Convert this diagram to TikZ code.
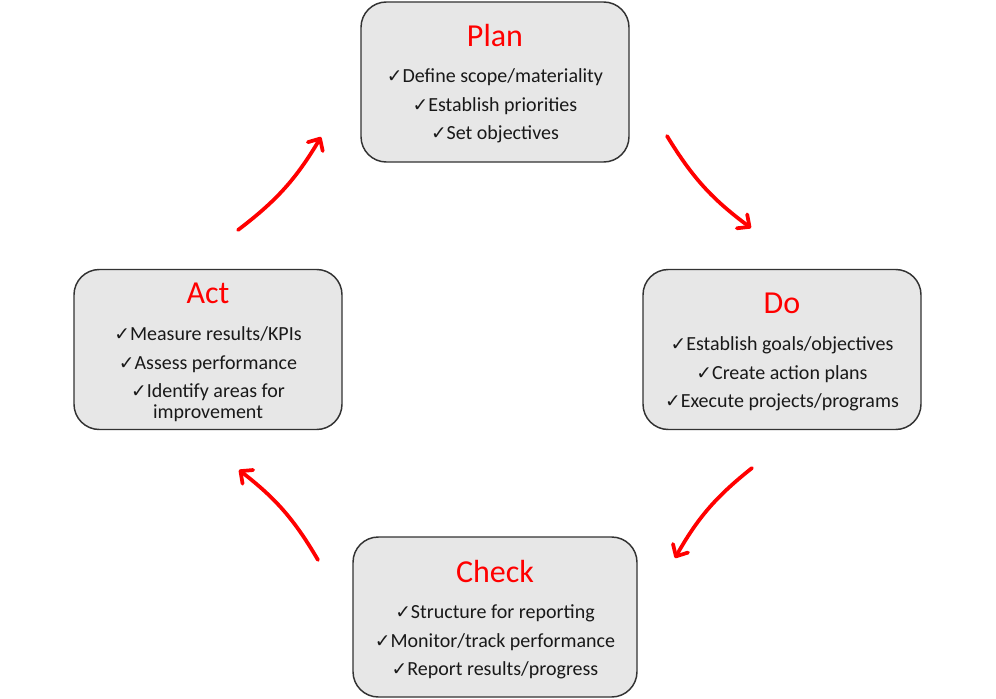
\documentclass[tikz,border=0pt]{standalone}
\usepackage{fontspec}
\setmainfont{Carlito}
\newfontfamily\symfont{DejaVu Sans}
\usetikzlibrary{arrows.meta}

\definecolor{boxgray}{RGB}{231,231,231}
\definecolor{boxedge}{RGB}{50,50,50}
\definecolor{cyclered}{RGB}{255,0,0}
\newcommand{\tick}{{\symfont\fontsize{14}{14}\selectfont ✓}}

\begin{document}
\begin{tikzpicture}[x=0.75pt,y=-0.75pt]
    % Define node styles
    \tikzstyle{stagebox}=[rectangle, rounded corners=19pt, fill=boxgray, draw=boxedge, line width=1.1pt, minimum height=120pt]
    \tikzstyle{titletext}=[text=cyclered, font=\fontsize{24}{24}\selectfont]
    \tikzstyle{itemtext}=[align=center, text=black!90, font=\fontsize{15}{21.4}\selectfont]
    \tikzstyle{cyclearrow}=[cyclered, line width=2.8pt, line cap=round, -{Straight Barb[length=7pt, width=13pt, round]}]

    \useasboundingbox (0,0) rectangle (996,699);

    % Plan (top)
    \node[stagebox, minimum width=201pt] (plan) at (495,82) {};
    \node[titletext] (plantitle) at (495,36) {Plan};
    \node[itemtext] (planitems) at (495,106) {\tick Define scope/materiality\\
        \tick Establish priorities\\ \tick Set objectives};

    % Do (right)
    \node[stagebox, minimum width=208.5pt] (do) at (782,349.5) {};
    \node[titletext] (dotitle) at (782,303) {Do};
    \node[itemtext] (doitems) at (782,374) {\tick Establish goals/objectives\\
        \tick Create action plans\\ \tick Execute projects/programs};

    % Check (bottom)
    \node[stagebox, minimum width=213pt] (check) at (495,617) {};
    \node[titletext] (checktitle) at (495,571) {Check};
    \node[itemtext] (checkitems) at (495,642) {\tick Structure for reporting\\
        \tick Monitor/track performance\\ \tick Report results/progress};

    % Act (left)
    \node[stagebox, minimum width=201pt] (act) at (208,349.5) {};
    \node[titletext] (acttitle) at (208,293) {Act};
    \node[itemtext] (actitems) at (208,374) {\tick Measure results/KPIs\\
        \tick Assess performance\\ \tick Identify areas for\\[-6pt] improvement};

    % Arrow ends
    \coordinate (pd1) at (667,136);
    \coordinate (pd2) at (751,228);
    \coordinate (dc1) at (752,468);
    \coordinate (dc2) at (675,558);
    \coordinate (ca1) at (318,560);
    \coordinate (ca2) at (239,470);
    \coordinate (ap1) at (238,230);
    \coordinate (ap2) at (321,137);

    % Cycle arrows
    \draw[cyclearrow] (pd1) to[bend right=11] (pd2);
    \draw[cyclearrow] (dc1) to[bend right=11] (dc2);
    \draw[cyclearrow] (ca1) to[bend right=11] (ca2);
    \draw[cyclearrow] (ap1) to[bend right=11] (ap2);

\end{tikzpicture}
\end{document}
